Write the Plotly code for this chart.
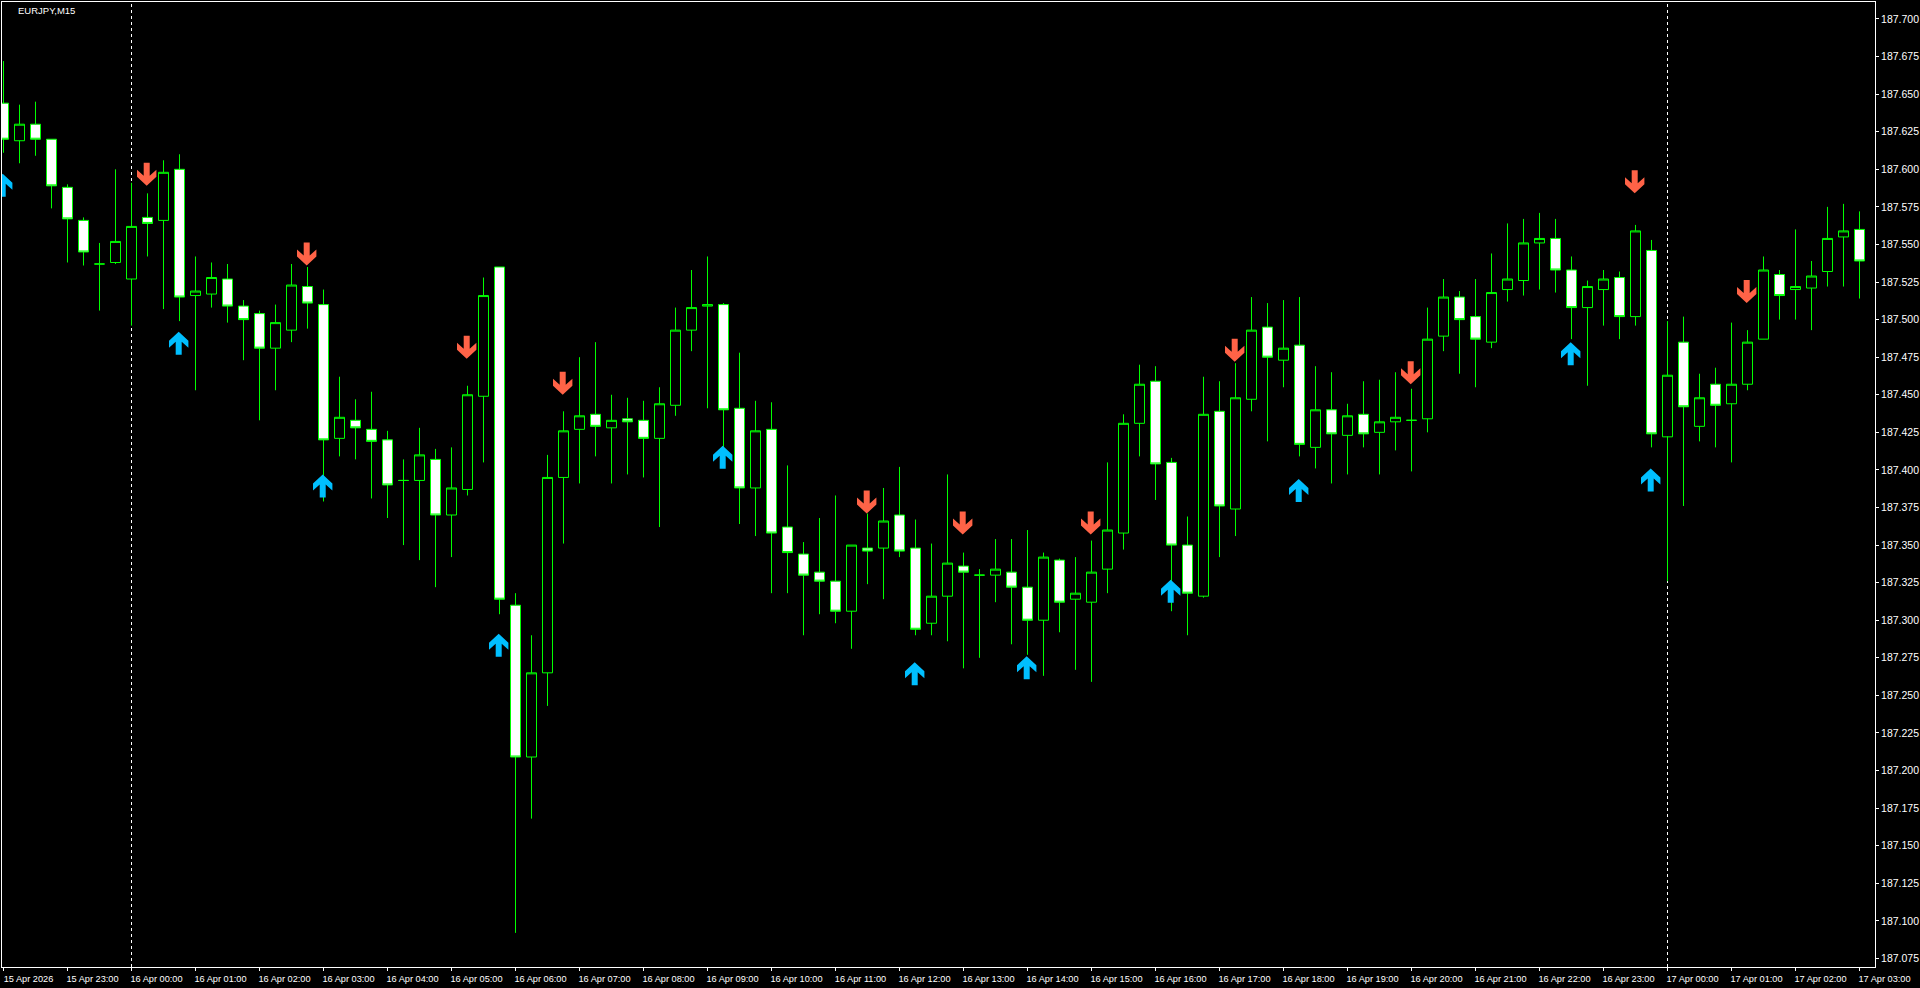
import pandas as pd
import plotly.graph_objects as go

opens = [187.644,187.619,187.630,187.620,187.588,187.566,187.537,187.538,187.527,187.568,
 187.566,187.600,187.516,187.517,187.527,187.509,187.504,187.481,187.493,187.522,
 187.510,187.421,187.433,187.427,187.420,187.393,187.393,187.407,187.370,187.387,
 187.449,187.535,187.310,187.209,187.265,187.395,187.427,187.437,187.428,187.434,
 187.433,187.421,187.443,187.493,187.509,187.510,187.441,187.388,187.427,187.362,
 187.344,187.332,187.326,187.306,187.348,187.348,187.370,187.348,187.298,187.316,
 187.336,187.330,187.330,187.332,187.322,187.300,187.340,187.314,187.312,187.334,
 187.358,187.431,187.459,187.405,187.350,187.316,187.439,187.374,187.447,187.495,
 187.473,187.483,187.415,187.440,187.423,187.437,187.425,187.432,187.433,187.434,
 187.489,187.515,187.502,187.485,187.520,187.526,187.551,187.554,187.533,187.508,
 187.520,187.528,187.502,187.546,187.422,187.485,187.429,187.457,187.444,187.457,
 187.487,187.530,187.520,187.521,187.532,187.555,187.560]
highs = [187.672,187.643,187.645,187.620,187.590,187.568,187.551,187.600,187.591,187.584,
 187.606,187.610,187.542,187.538,187.537,187.513,187.506,187.510,187.537,187.535,
 187.520,187.462,187.447,187.452,187.426,187.407,187.428,187.414,187.415,187.456,
 187.528,187.535,187.318,187.290,187.410,187.439,187.475,187.485,187.450,187.448,
 187.446,187.455,187.508,187.533,187.542,187.511,187.478,187.446,187.445,187.403,
 187.352,187.368,187.383,187.350,187.371,187.388,187.402,187.367,187.351,187.397,
 187.345,187.334,187.354,187.354,187.360,187.345,187.341,187.342,187.353,187.405,
 187.437,187.470,187.469,187.408,187.369,187.462,187.459,187.471,187.515,187.511,
 187.513,187.515,187.469,187.465,187.444,187.459,187.460,187.465,187.454,187.508,
 187.527,187.519,187.527,187.544,187.564,187.567,187.571,187.567,187.542,187.526,
 187.533,187.532,187.563,187.553,187.499,187.502,187.464,187.468,187.498,187.493,
 187.542,187.533,187.560,187.539,187.575,187.577,187.572]
lows = [187.611,187.604,187.609,187.574,187.538,187.536,187.506,187.537,187.496,187.542,
 187.507,187.499,187.453,187.508,187.498,187.473,187.433,187.453,187.485,187.494,
 187.379,187.409,187.407,187.381,187.368,187.350,187.340,187.322,187.342,187.383,
 187.405,187.304,187.092,187.168,187.243,187.351,187.391,187.409,187.391,187.397,
 187.395,187.362,187.436,187.479,187.441,187.415,187.364,187.356,187.318,187.318,
 187.290,187.304,187.298,187.281,187.324,187.314,187.342,187.290,187.290,187.286,
 187.268,187.275,187.312,187.284,187.277,187.263,187.292,187.267,187.259,187.318,
 187.347,187.409,187.380,187.306,187.290,187.315,187.342,187.356,187.439,187.419,
 187.455,187.409,187.401,187.391,187.397,187.415,187.397,187.413,187.399,187.425,
 187.479,187.464,187.455,187.481,187.512,187.516,187.520,187.518,187.487,187.456,
 187.496,187.487,187.496,187.415,187.326,187.376,187.419,187.415,187.405,187.453,
 187.487,187.500,187.500,187.493,187.522,187.522,187.514]
closes = [187.620,187.630,187.620,187.589,187.567,187.545,187.537,187.552,187.562,187.564,
 187.598,187.515,187.519,187.528,187.509,187.500,187.481,187.498,187.523,187.511,
 187.420,187.435,187.428,187.419,187.390,187.393,187.410,187.370,187.388,187.450,
 187.516,187.314,187.209,187.265,187.395,187.426,187.436,187.429,187.433,187.432,
 187.421,187.444,187.493,187.508,187.510,187.440,187.388,187.426,187.358,187.345,
 187.330,187.326,187.306,187.350,187.346,187.366,187.346,187.294,187.316,187.338,
 187.332,187.330,187.334,187.322,187.300,187.342,187.312,187.318,187.332,187.360,
 187.431,187.457,187.404,187.350,187.318,187.437,187.376,187.448,187.493,187.475,
 187.481,187.417,187.440,187.424,187.436,187.424,187.432,187.435,187.433,187.487,
 187.515,187.500,187.487,187.518,187.527,187.551,187.554,187.533,187.508,187.522,
 187.527,187.502,187.559,187.424,187.463,187.442,187.448,187.443,187.457,187.485,
 187.533,187.516,187.522,187.529,187.554,187.559,187.539]

times = pd.date_range("2026-04-15 22:00", periods=len(opens), freq="15min")

down_idx = [9, 19, 29, 35, 54, 60, 68, 77, 88, 102, 109]
down_tip = [187.589,187.536,187.474,187.450,187.371,187.357,187.357,187.472,187.457,187.584,187.511]
up_idx = [0, 11, 20, 31, 45, 57, 64, 73, 81, 98, 103]
up_tip = [187.597,187.492,187.397,187.291,187.416,187.272,187.276,187.327,187.394,187.485,187.401]

period_sep_times = ["2026-04-16 00:00", "2026-04-17 00:00"]

x_tick_text = ["15 Apr 2026", "15 Apr 23:00"] + \
    [f"16 Apr {h:02d}:00" for h in range(24)] + \
    [f"17 Apr {h:02d}:00" for h in range(4)]
x_tick_vals = list(times[::4])
y_tick_vals = [187.075 + 0.025 * i for i in range(26)]
y_tick_text = [f"{v:.3f}" for v in y_tick_vals]

GREEN = "#00FF00"
RED = "#FF6347"
BLUE = "#00BFFF"
FONT = "Liberation Sans Narrow, Liberation Sans, sans-serif"

fig = go.Figure(go.Candlestick(
    x=times, open=opens, high=highs, low=lows, close=closes,
    increasing=dict(line=dict(color=GREEN, width=1), fillcolor="#000000"),
    decreasing=dict(line=dict(color=GREEN, width=1), fillcolor="#FFFFFF"),
    whiskerwidth=0, showlegend=False,
))

shapes = []
for t in period_sep_times:
    shapes.append(dict(type="line", xref="x", yref="paper", x0=t, x1=t, y0=0, y1=1,
                       layer="below", line=dict(color="#FFFFFF", width=1, dash="3px,3px")))

DOWN_PATH = "M-0.8,0 L-10.5,9 L-10.5,16 L-3.8,10 L-3.8,23 L2.2,23 L2.2,10 L8.9,16 L8.9,9 Z"
UP_PATH = "M-0.8,0 L-10.5,-9 L-10.5,-16 L-3.8,-10 L-3.8,-23 L2.2,-23 L2.2,-10 L8.9,-16 L8.9,-9 Z"
for i, p in zip(down_idx, down_tip):
    shapes.append(dict(type="path", xref="x", yref="y", xsizemode="pixel", ysizemode="pixel",
                       xanchor=times[i], yanchor=p, path=DOWN_PATH, fillcolor=RED,
                       line=dict(width=0), layer="above"))
for i, p in zip(up_idx, up_tip):
    shapes.append(dict(type="path", xref="x", yref="y", xsizemode="pixel", ysizemode="pixel",
                       xanchor=times[i], yanchor=p, path=UP_PATH, fillcolor=BLUE,
                       line=dict(width=0), layer="above"))

fig.update_layout(
    width=1920, height=988,
    margin=dict(l=2, r=45, t=2, b=21, autoexpand=False),
    paper_bgcolor="#000000", plot_bgcolor="#000000",
    font=dict(family=FONT, color="#FFFFFF", size=10),
    boxgap=0.375, boxgroupgap=0,
    shapes=shapes,
    hovermode=False,
    xaxis=dict(
        type="date", rangeslider=dict(visible=False), automargin=False,
        range=["2026-04-15 21:58:35.625", "2026-04-17 03:14:31.875"],
        showgrid=False, zeroline=False, showline=True, linecolor="#FFFFFF", linewidth=1,
        mirror=True, ticks="outside", ticklen=3, tickcolor="#FFFFFF", tickwidth=1,
        tickmode="array", tickvals=x_tick_vals, ticktext=x_tick_text, tickangle=0,
        ticklabelshift=25, ticklabelstandoff=0,
        tickfont=dict(family=FONT, size=9.2, color="#FFFFFF"),
    ),
    yaxis=dict(
        side="right", range=[187.0693, 187.7113], automargin=False,
        showgrid=False, zeroline=False, showline=True, linecolor="#FFFFFF", linewidth=1,
        mirror=True, ticks="outside", ticklen=3, tickcolor="#FFFFFF", tickwidth=1,
        tickmode="array", tickvals=y_tick_vals, ticktext=y_tick_text,
        tickfont=dict(family=FONT, size=10.5, color="#FFFFFF"),
    ),
    annotations=[dict(text="EURJPY,M15", xref="paper", yref="paper", x=0, y=1, xshift=14, yshift=-1,
                      xanchor="left", yanchor="top", showarrow=False,
                      font=dict(family=FONT, size=9.5, color="#FFFFFF"))],
)

fig.write_html("out.html", config=dict(displayModeBar=False),
               post_script="document.body.style.margin='0';document.body.style.background='#000';document.documentElement.style.overflow='hidden';")
